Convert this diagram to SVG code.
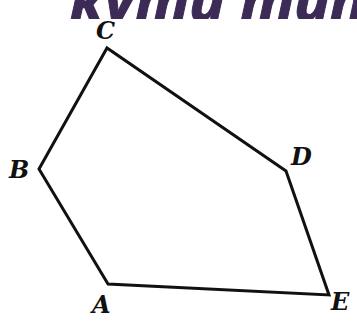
<svg xmlns="http://www.w3.org/2000/svg" width="357" height="326" viewBox="0 0 357 326">
  <style>
    .title { font-family: "Noto Sans", "Liberation Sans", sans-serif; font-weight: bold; font-style: italic; font-size: 60px; fill: #3c2b56; stroke: #3c2b56; stroke-width: 1; }
    .lbl { font-family: "DejaVu Serif", "Liberation Serif", serif; font-weight: bold; font-style: italic; font-size: 24px; fill: #111; }
    .edge { fill: none; stroke: #111; stroke-width: 3; stroke-linejoin: miter; }
  </style>
  <defs>
    <clipPath id="topclip"><rect x="0" y="0" width="357" height="19"/></clipPath>
  </defs>
  <rect x="0" y="0" width="357" height="326" fill="#fff"/>
  <g id="title" clip-path="url(#topclip)">
    <text class="title" x="70" y="21">кути тип</text>
  </g>
  <g id="connectors">
    <polygon class="edge" points="108,284 39,169 107,48 286,171 329,295"/>
  </g>
  <g id="node-A"><text class="lbl" x="92" y="313">A</text></g>
  <g id="node-B"><text class="lbl" x="9" y="178">B</text></g>
  <g id="node-C"><text class="lbl" x="96" y="39">C</text></g>
  <g id="node-D"><text class="lbl" x="291" y="165">D</text></g>
  <g id="node-E"><text class="lbl" x="331" y="310">E</text></g>
</svg>
